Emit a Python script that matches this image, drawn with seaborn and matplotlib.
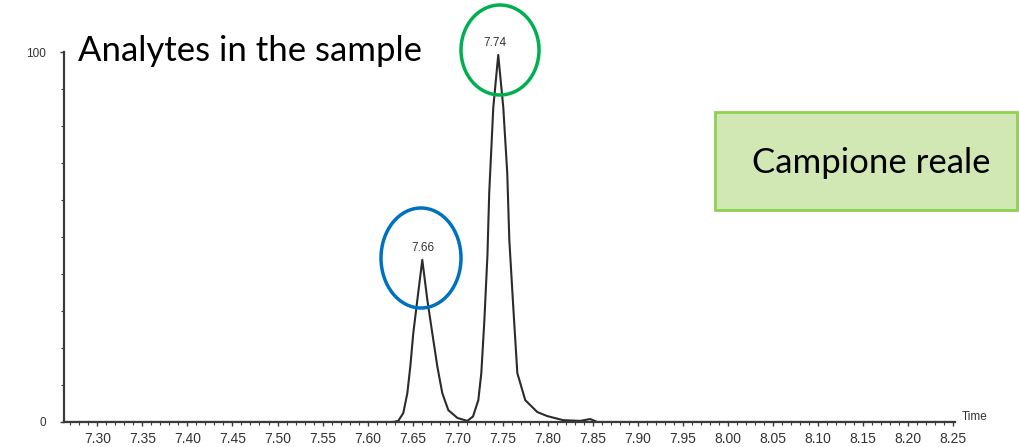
import matplotlib
matplotlib.use("Agg")
import matplotlib.pyplot as plt
from matplotlib.patches import Ellipse, Rectangle
from matplotlib.ticker import MultipleLocator
import seaborn as sns

# chromatogram trace (time, relative abundance %)
time = [7.263, 7.40, 7.55, 7.628, 7.634, 7.6396, 7.6441, 7.6474, 7.6507, 7.6552,
        7.6607, 7.6663, 7.6718, 7.6774, 7.6829, 7.6896, 7.6996, 7.7107, 7.717,
        7.7229, 7.7262, 7.7295, 7.733, 7.735, 7.7395, 7.745, 7.7506, 7.755,
        7.7573, 7.7617, 7.7662, 7.775, 7.7883, 7.7994, 7.817, 7.836, 7.847,
        7.855, 8.00, 8.252]
abund = [0, 0, 0, 0, 0.3, 2.4, 7.8, 15, 24, 33,
         43.8, 33, 24, 15, 7.8, 3.2, 1.1, 0.3, 1.5,
         5.9, 13.2, 27, 45, 62, 85, 99.2, 85, 67.3,
         49.2, 31, 13.2, 5.9, 2.7, 1.6, 0.5, 0.3, 0.8,
         0, 0, 0]

peak_times = [7.66, 7.74]
peak_heights = [43.8, 99.2]
x_ticks = [7.30, 7.35, 7.40, 7.45, 7.50, 7.55, 7.60, 7.65, 7.70, 7.75,
           7.80, 7.85, 7.90, 7.95, 8.00, 8.05, 8.10, 8.15, 8.20, 8.25]

sns.set_style("white")
plt.rcParams['font.family'] = ['Liberation Sans', 'DejaVu Sans']

fig = plt.figure(figsize=(10.2, 4.47), dpi=100)
ax = fig.add_axes([64 / 1020, 1 - 422 / 447, (955 - 64) / 1020, 370 / 447])

sns.lineplot(x=time, y=abund, ax=ax, color="#2b2b2b", linewidth=1.5)

ax.set_xlim(7.263, 8.252)
ax.set_ylim(0, 100)
sns.despine(ax=ax)
for side in ["left", "bottom"]:
    ax.spines[side].set_color("#3a3a3a")
    ax.spines[side].set_linewidth(1.6)

ax.set_xticks(x_ticks)
ax.set_xticklabels([f"{t:.2f}" for t in x_ticks])
ax.xaxis.set_minor_locator(MultipleLocator(0.01))
ax.set_yticks([0, 100])
ax.yaxis.set_minor_locator(MultipleLocator(10))
ax.tick_params(axis="both", which="major", direction="out", length=3, width=1,
               color="#3a3a3a", labelsize=10, labelcolor="#333333")
ax.tick_params(axis="x", which="major", pad=4)
ax.tick_params(axis="y", which="major", labelsize=8.5, pad=10)
ax.tick_params(axis="both", which="minor", direction="out", length=2, width=0.8,
               color="#3a3a3a")
ax.tick_params(left=True, bottom=True, which="both")
ax.set_xlabel("")
ax.set_ylabel("")

# peak labels
for t, h in zip(peak_times, peak_heights):
    ax.text(t + 0.001, h + 1.5, f"{t:.2f}", ha="center", va="bottom",
            fontsize=8.5, color="#333333")

fig.text(962 / 1020, 1 - 417 / 447, "Time", fontsize=8.5, color="#333333",
         ha="left", va="center")

# circles around peak labels (figure pixel coords)
fig.add_artist(Ellipse((421 / 1020, 1 - 258 / 447), 80 / 1020, 100 / 447,
                       transform=fig.transFigure, fill=False,
                       edgecolor="#0070C0", linewidth=2.5))
fig.add_artist(Ellipse((500 / 1020, 1 - 50 / 447), 78 / 1020, 90 / 447,
                       transform=fig.transFigure, fill=False,
                       edgecolor="#00B050", linewidth=2.5))

fig.text(78 / 1020, 1 - 51 / 447, "Analytes in the sample", fontsize=25,
         family=["Lato", "DejaVu Sans"], ha="left", va="center", color="black")

fig.add_artist(Rectangle((715 / 1020, 1 - 210 / 447), 302 / 1020, 98 / 447,
                         transform=fig.transFigure, facecolor="#D2E8B4",
                         edgecolor="#8FD14F", linewidth=2))
fig.text(871 / 1020, 1 - 163 / 447, "Campione reale", fontsize=25,
         family=["Lato", "DejaVu Sans"], ha="center", va="center", color="black")

fig.savefig("out.png", dpi=100)
